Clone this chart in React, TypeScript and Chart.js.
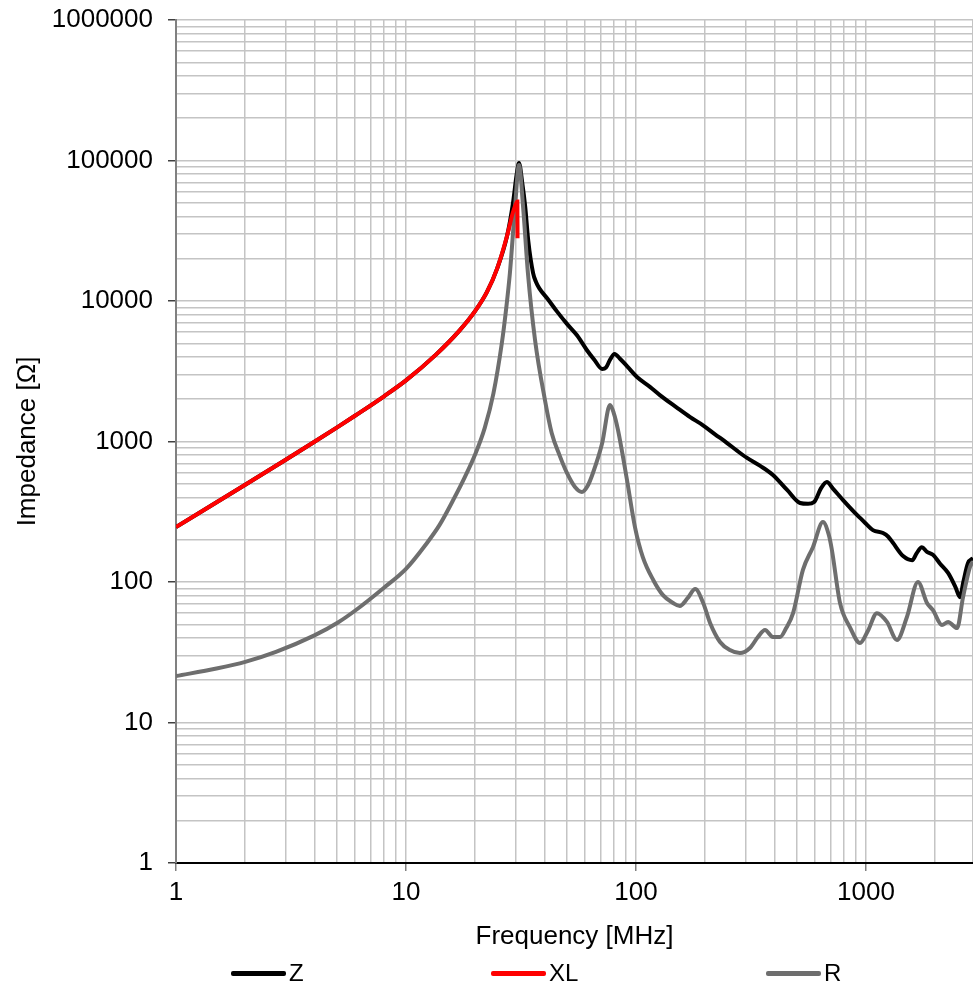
import React, { useEffect, useRef } from "react";
import { Chart, registerables } from "chart.js";

Chart.register(...registerables);

const FONT = '"Liberation Sans", Arial, Helvetica, sans-serif';

// ---- data (frequency in MHz, impedance in ohm) ----
const freqZ = [1, 2, 3, 4, 5, 6, 8, 10, 13.5, 17, 20, 22.5, 24.9, 27.5, 29.2, 30.3, 31, 32, 33, 34, 35.7, 36.8, 38, 41.4, 45.4, 50, 55.4, 61, 66, 71.3, 74, 77, 80.7, 85, 92, 101, 115, 127, 150, 172, 195, 220, 249, 275, 304, 347, 394, 454, 517, 560, 595, 640, 676, 720, 795, 914, 1000, 1072, 1186, 1250, 1310, 1450, 1590, 1660, 1750, 1842, 1955, 2100, 2275, 2450, 2563, 2650, 2775, 2920];
const valZ = [246, 492, 741, 995, 1255, 1525, 2090, 2720, 4150, 6100, 8500, 11600, 17000, 29000, 50000, 80000, 96000, 70000, 46700, 27000, 15800, 13600, 12300, 10300, 8400, 6900, 5700, 4500, 3800, 3280, 3350, 3800, 4200, 3900, 3400, 2880, 2450, 2140, 1750, 1490, 1310, 1130, 975, 860, 764, 670, 578, 452, 365, 360, 371, 470, 515, 460, 383, 300, 260, 234, 223, 210, 190, 153, 143, 160, 177, 164, 156, 135, 116, 92, 78, 100, 136, 148];

const freqXL = [1, 2, 3, 4, 5, 6, 8, 10, 13.5, 17, 20, 22.5, 24.9, 27.5, 29.2, 30.2, 30.5, 30.55];
const valXL = [246, 492, 741, 995, 1255, 1525, 2090, 2720, 4150, 6100, 8500, 11600, 17000, 29000, 43000, 50000, 51000, 28000];

const freqR = [1, 1.5, 2, 2.72, 3.98, 5.06, 6.06, 8, 10, 12.2, 14, 16, 18, 20.1, 22, 24, 26.1, 27.3, 28.3, 29.8, 31, 32.3, 33.9, 36.4, 40.2, 43, 46.5, 50.1, 54.3, 58.2, 61.5, 65, 71.3, 77.1, 80, 83.5, 91.4, 99, 107, 119, 131, 145, 155, 168, 181, 196, 210, 232, 256, 283, 313, 339, 364, 394, 423, 450, 482, 532, 588, 650, 690, 711, 771, 851, 942, 1020, 1116, 1234, 1364, 1507, 1683, 1842, 1955, 2140, 2275, 2489, 2643, 2834, 2920];
const valR = [21.4, 24.2, 27, 31.8, 41.5, 51.5, 63.2, 90.7, 124, 185, 255, 380, 555, 828, 1250, 2200, 5000, 9000, 15800, 46700, 93000, 46700, 15800, 5280, 1970, 1150, 800, 597, 474, 437, 480, 597, 975, 1820, 1600, 1210, 532, 246, 151, 103, 80.7, 70.9, 67.5, 77, 89, 70.9, 51.1, 37.4, 32.8, 31.2, 33.9, 40.6, 45.5, 40.6, 40.6, 47, 60, 122, 177, 267, 215, 169, 71, 47.8, 36.8, 45, 60, 52, 38.7, 56.4, 100, 71, 63, 49.4, 52, 47, 78, 128, 140];

const seriesNames = ["Z", "XL", "R"];
const seriesColors = ["#000000", "#ff0000", "#6e6e6e"];

const xDecades = [1, 10, 100, 1000];
const yDecades = [1, 10, 100, 1000, 10000, 100000];
const xMin = 1;
const xMax = 2920;
const yMin = 1;
const yMax = 1000000;

const xTitle = "Frequency [MHz]";
const yTitle = "Impedance [Ω]";

// ---- helpers ----
const isPow10 = (v: number) => {
  const l = Math.log10(v);
  return Math.abs(l - Math.round(l)) < 1e-9;
};

const logTickValues = (decades: number[], max: number) => {
  const vals: number[] = [];
  decades.forEach((d) => {
    for (let m = 1; m <= 9; m++) {
      const v = m * d;
      if (v <= max) vals.push(v);
    }
  });
  if (vals[vals.length - 1] !== max) vals.push(max);
  return vals;
};

const toPoints = (xs: number[], ys: number[]) => xs.map((x, i) => ({ x, y: ys[i] }));

const GRID = "#c4c4c4";

export default function App() {
  const ref = useRef<HTMLCanvasElement>(null);

  useEffect(() => {
    const xTicks = logTickValues(xDecades, xMax);
    const yTicks = logTickValues(yDecades, yMax);
    const seriesData = [
      toPoints(freqZ, valZ),
      toPoints(freqXL, valXL),
      toPoints(freqR, valR),
    ];
    const drawOrder = [2, 0, 1];

    const chart = new Chart(ref.current as HTMLCanvasElement, {
      type: "line",
      data: {
        datasets: seriesNames.map((name, i) => ({
          label: name,
          data: seriesData[i],
          borderColor: seriesColors[i],
          backgroundColor: seriesColors[i],
          borderWidth: 4,
          pointRadius: 0,
          pointHoverRadius: 0,
          fill: false,
          cubicInterpolationMode: "monotone" as const,
          order: drawOrder[i],
        })),
      },
      options: {
        animation: false,
        responsive: false,
        devicePixelRatio: 1,
        events: [],
        layout: { padding: { top: 20, right: 0, bottom: 36, left: 0 } },
        plugins: {
          legend: { display: false },
          tooltip: { enabled: false },
        },
        scales: {
          x: {
            type: "logarithmic",
            min: xMin,
            max: xMax,
            afterBuildTicks: (scale: any) => {
              scale.ticks = xTicks.map((v) => ({ value: v, major: false }));
            },
            afterFit: (scale: any) => {
              scale.height = 89;
              scale.paddingLeft = 0;
              scale.paddingRight = 0;
            },
            ticks: {
              autoSkip: false,
              maxRotation: 0,
              padding: 6,
              color: "#000",
              font: { family: FONT, size: 26, lineHeight: 1.2 },
              callback: (v: any) => (isPow10(Number(v)) ? String(Number(v)) : ""),
            },
            grid: {
              color: GRID,
              lineWidth: 1.5,
              tickLength: 8,
              tickColor: (ctx: any) => (ctx.tick && isPow10(ctx.tick.value) ? "#808080" : "rgba(0,0,0,0)"),
              tickWidth: 1.5,
            },
            border: { display: true, color: "#000000", width: 2 },
            title: {
              display: true,
              text: xTitle,
              color: "#000",
              font: { family: FONT, size: 26, lineHeight: 1.2 },
              padding: { top: 0, bottom: 0 },
            },
          },
          y: {
            type: "logarithmic",
            min: yMin,
            max: yMax,
            afterBuildTicks: (scale: any) => {
              scale.ticks = yTicks.map((v) => ({ value: v, major: false }));
            },
            afterFit: (scale: any) => {
              scale.width = 176;
              scale.paddingTop = 0;
              scale.paddingBottom = 0;
            },
            ticks: {
              autoSkip: false,
              padding: 15,
              color: "#000",
              font: { family: FONT, size: 26, lineHeight: 1.2 },
              callback: (v: any) => (isPow10(Number(v)) ? String(Number(v)) : ""),
            },
            grid: {
              color: GRID,
              lineWidth: 1.5,
              tickLength: 8,
              tickColor: (ctx: any) => (ctx.tick && isPow10(ctx.tick.value) ? "#404040" : "rgba(0,0,0,0)"),
              tickWidth: 1.5,
            },
            border: { display: true, color: "#808080", width: 2 },
            title: {
              display: true,
              text: yTitle,
              color: "#000",
              font: { family: FONT, size: 26, lineHeight: 1.2 },
              padding: { top: 12, bottom: 0 },
            },
          },
        },
      },
    } as any);

    return () => chart.destroy();
  }, []);

  const legendLineLeft = [231, 491, 766];
  const legendTextLeft = [289, 549, 824];

  return (
    <div
      style={{
        position: "absolute",
        left: 0,
        top: 0,
        width: 973,
        height: 988,
        background: "#fff",
        overflow: "hidden",
        fontFamily: FONT,
      }}
    >
      <canvas ref={ref} width={973} height={988} style={{ display: "block", width: 973, height: 988 }} />
      {seriesNames.map((name, i) => (
        <React.Fragment key={name}>
          <div
            style={{
              position: "absolute",
              left: legendLineLeft[i],
              top: 971,
              width: 55,
              height: 4.5,
              borderRadius: 2,
              background: seriesColors[i],
            }}
          />
          <div
            style={{
              position: "absolute",
              left: legendTextLeft[i],
              top: 961,
              fontSize: 24,
              lineHeight: "24px",
              color: "#000",
              whiteSpace: "nowrap",
            }}
          >
            {name}
          </div>
        </React.Fragment>
      ))}
    </div>
  );
}
